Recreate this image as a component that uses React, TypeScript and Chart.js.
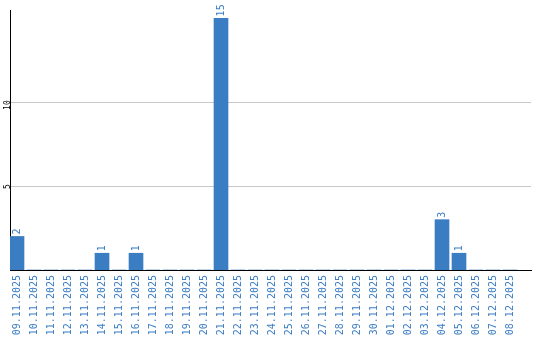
import React, { useEffect, useRef } from "react";
import { Chart, registerables } from "chart.js";

Chart.register(...registerables);

const dates: string[] = [
  "09.11.2025", "10.11.2025", "11.11.2025", "12.11.2025", "13.11.2025",
  "14.11.2025", "15.11.2025", "16.11.2025", "17.11.2025", "18.11.2025",
  "19.11.2025", "20.11.2025", "21.11.2025", "22.11.2025", "23.11.2025",
  "24.11.2025", "25.11.2025", "26.11.2025", "27.11.2025", "28.11.2025",
  "29.11.2025", "30.11.2025", "01.12.2025", "02.12.2025", "03.12.2025",
  "04.12.2025", "05.12.2025", "06.12.2025", "07.12.2025", "08.12.2025",
];
const counts: number[] = [
  2, 0, 0, 0, 0, 1, 0, 1, 0, 0,
  0, 0, 15, 0, 0, 0, 0, 0, 0, 0,
  0, 0, 0, 0, 0, 3, 1, 0, 0, 0,
];
const yTickValues: number[] = [5, 10];

const BLUE = "#3b7dc3";
const MONO = "'DejaVu Sans Mono', monospace";

const barLabelPlugin = {
  id: "barLabels",
  afterDatasetsDraw(chart: any) {
    const ctx = chart.ctx;
    const meta = chart.getDatasetMeta(0);
    ctx.save();
    ctx.fillStyle = BLUE;
    ctx.font = `10px ${MONO}`;
    ctx.textAlign = "left";
    ctx.textBaseline = "middle";
    meta.data.forEach((bar: any, i: number) => {
      const v = counts[i];
      if (!v) return;
      ctx.save();
      ctx.translate(bar.x, bar.y - 2);
      ctx.rotate(-Math.PI / 2);
      ctx.fillText(String(v), 0, 0);
      ctx.restore();
    });
    ctx.restore();
  },
};

export default function App() {
  const ref = useRef<HTMLCanvasElement | null>(null);
  useEffect(() => {
    document.body.style.margin = "0";
    const canvas = ref.current!;
    const chart = new Chart(canvas, {
      type: "bar",
      data: {
        datasets: [
          {
            data: counts.map((v, i) => ({ x: i, y: v })),
            backgroundColor: BLUE,
            barThickness: 14,
            borderWidth: 0,
          },
        ],
      },
      options: {
        animation: false,
        responsive: false,
        events: [],
        layout: { padding: { top: 10, right: 9, left: 0, bottom: 0 } },
        plugins: { legend: { display: false }, tooltip: { enabled: false } },
        scales: {
          x: {
            type: "linear",
            offset: false,
            min: -0.412,
            max: 30.235,
            afterBuildTicks: (scale: any) => {
              scale.ticks = dates.map((_, i) => ({ value: i }));
            },
            afterFit: (scale: any) => {
              scale.height = 70;
            },
            grid: { display: false, drawTicks: false },
            border: { display: true, color: "#000", width: 1 },
            ticks: {
              autoSkip: false,
              minRotation: 90,
              maxRotation: 90,
              padding: 5,
              color: BLUE,
              font: { family: MONO, size: 10 },
              callback: (v: any) => dates[v as number] ?? "",
            },
          },
          y: {
            min: 0,
            max: 15.5,
            afterBuildTicks: (scale: any) => {
              scale.ticks = yTickValues.map((v) => ({ value: v }));
            },
            afterFit: (scale: any) => {
              scale.width = 10;
            },
            grid: { color: "#c8c8c8", lineWidth: 1, drawTicks: false },
            border: { display: true, color: "#000", width: 1 },
            ticks: {
              minRotation: 90,
              maxRotation: 90,
              padding: 2,
              labelOffset: -2,
              color: "#000",
              font: { family: MONO, size: 8 },
            },
          },
        },
      },
      plugins: [barLabelPlugin],
    } as any);
    return () => chart.destroy();
  }, []);
  return <canvas ref={ref} width={540} height={340} style={{ display: "block" }} />;
}
